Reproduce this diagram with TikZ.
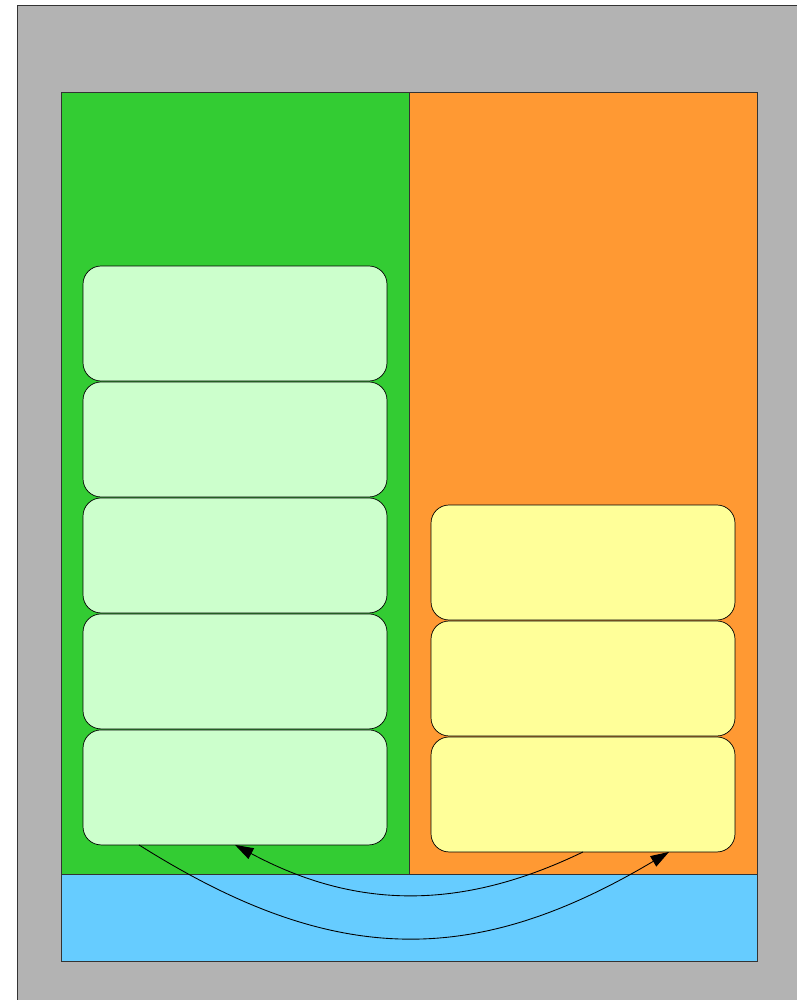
\documentclass[tikz,border=0pt]{standalone}
\usepackage{xcolor}
\usepackage{tikz}
\usetikzlibrary{arrows.meta,positioning,calc}

\definecolor{frame}{HTML}{B3B3B3}
\definecolor{leftpane}{HTML}{33CC33}
\definecolor{rightpane}{HTML}{FF9933}
\definecolor{basepane}{HTML}{66CCFF}
\definecolor{leftcard}{HTML}{CCFFCC}
\definecolor{rightcard}{HTML}{FFFF99}

\begin{document}
\begin{tikzpicture}[
    x=0.02cm, y=-0.02cm,
    pane/.style={draw=black!80, line width=0.5pt},
    card/.style={draw, rounded corners=0.36cm, minimum width=6.08cm, minimum height=2.3cm, inner sep=0pt, outer sep=0pt},
    flow/.style={-{Triangle[length=10.5pt,width=6.8pt]}, line width=0.5pt}
  ]
    \useasboundingbox (0,0) rectangle (797,1000);
    % background panels
    \draw[pane, fill=frame] (17,5) rectangle (810,1010);
    \draw[pane, fill=leftpane] (61,92) rectangle (409,874);
    \draw[pane, fill=rightpane] (409,92) rectangle (757,874);
    \draw[pane, fill=basepane] (61,874) rectangle (757,961);

    % left stack
    \node[card, fill=leftcard] (g1) at (235,323.5) {};
    \node[card, fill=leftcard, below=0.02cm of g1] (g2) {};
    \node[card, fill=leftcard, below=0.02cm of g2] (g3) {};
    \node[card, fill=leftcard, below=0.02cm of g3] (g4) {};
    \node[card, fill=leftcard, below=0.02cm of g4] (g5) {};

    % right stack
    \node[card, fill=rightcard] (y1) at (583,562.5) {};
    \node[card, fill=rightcard, below=0.02cm of y1] (y2) {};
    \node[card, fill=rightcard, below=0.02cm of y2] (y3) {};

    % connectors
    \coordinate (gout) at ($(g5.south west)!0.184!(g5.south east)$);
    \coordinate (yin) at ($(y3.south west)!0.783!(y3.south east)$);
    \draw[flow] (y3.south) to[bend left=27] (g5.south);
    \draw[flow] (gout) to[bend right=31.5, looseness=1.1] (yin);
  \end{tikzpicture}
\end{document}
